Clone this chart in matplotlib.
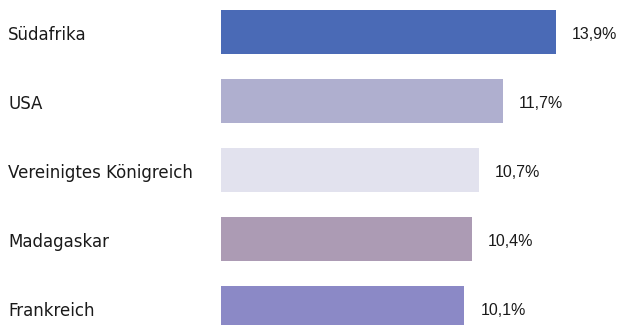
import matplotlib
matplotlib.use("Agg")
import matplotlib.pyplot as plt
from matplotlib.transforms import blended_transform_factory

countries = ["Südafrika", "USA", "Vereinigtes Königreich", "Madagaskar", "Frankreich"]
shares = [13.9, 11.7, 10.7, 10.4, 10.1]
colors = ["#4a6ab6", "#afafcf", "#e2e2ee", "#ac9bb4", "#8b89c6"]

W, H, DPI = 620, 325, 100
x0 = 221          # pixel where the bars start
px_per_unit = 24.1

fig = plt.figure(figsize=(W / DPI, H / DPI), dpi=DPI)
ax = fig.add_axes([x0 / W, 0, 1 - x0 / W, 1])

pos = list(range(len(countries)))
ax.barh(pos, shares, height=0.64, color=colors)

ax.set_xlim(0, (W - x0) / px_per_unit)
ax.set_ylim(4 + 17 / 69, -32 / 69)
ax.axis("off")

trans = blended_transform_factory(fig.transFigure, ax.transData)
for i, (name, val) in enumerate(zip(countries, shares)):
    ax.text(8 / W, i + 0.05, name, transform=trans, ha="left", va="center",
            fontsize=12, color="#1a1a1a", family="DejaVu Sans")
    ax.annotate(f"{val:.1f}%".replace(".", ","), xy=(val, i + 0.04),
                xytext=(16, 0), textcoords="offset pixels",
                ha="left", va="center", fontsize=11.5, color="#1a1a1a",
                family="Liberation Sans")

fig.savefig("out.png", dpi=DPI)
